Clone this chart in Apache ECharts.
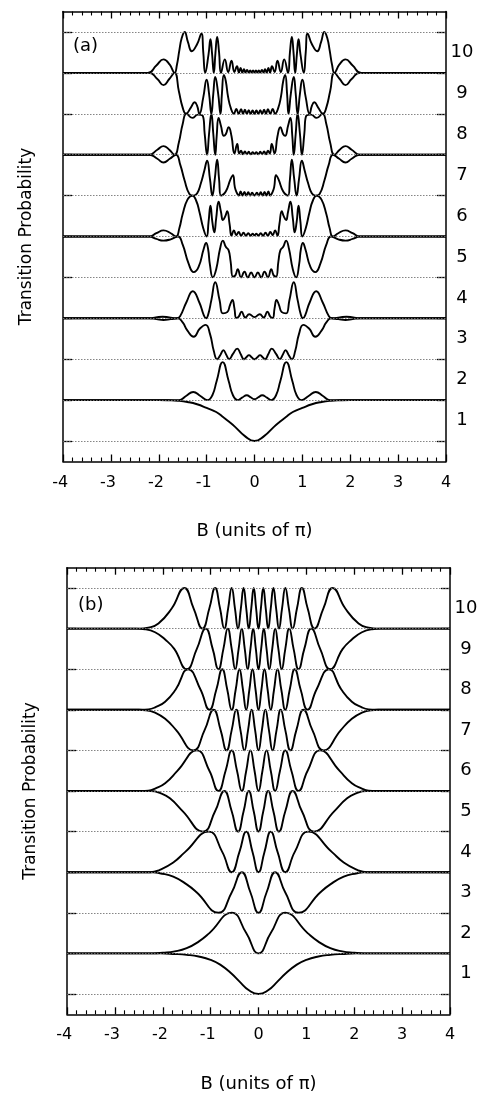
<!DOCTYPE html>
<html><head><meta charset="utf-8">
<script src="https://cdn.jsdelivr.net/npm/echarts@6/dist/echarts.min.js"></script>
<style>html,body{margin:0;padding:0;background:#fff}#c{width:487px;height:1093px}</style>
</head><body><div id="c"></div>
<script>
// strip levels (offset baselines), strip names, strip centres
const levels = [0,1,2,3,4,5,6,7,8,9,10];
const stripCenters = [0.5,1.5,2.5,3.5,4.5,5.5,6.5,7.5,8.5,9.5];
const stripLabels = ['1','2','3','4','5','6','7','8','9','10'];

// ---- panel (a): [B, P] pairs ----
const a1 = [[-4,0],[-2,0],[-1.8,0.004],[-1.6,0.015],[-1.4,0.045],[-1.2,0.1],[-1,0.19],[-0.8,0.29],[-0.65,0.42],[-0.53,0.53],[-0.4,0.66],[-0.2,0.88],[0,1],[0.2,0.88],[0.4,0.66],[0.53,0.53],[0.65,0.42],[0.8,0.29],[1,0.19],[1.2,0.1],[1.4,0.045],[1.6,0.015],[1.8,0.004],[2,0],[4,0]];
const a2 = [[-4,0],[-1.58,0],[-1.43,0.1],[-1.28,0.2],[-1.13,0.1],[-0.98,0],[-0.88,0.12],[-0.79,0.47],[-0.665,0.93],[-0.54,0.47],[-0.45,0.12],[-0.35,0],[-0.26,0.06],[-0.16,0.12],[-0.08,0.07],[0,0.02],[0.08,0.07],[0.16,0.12],[0.26,0.06],[0.35,0],[0.45,0.12],[0.54,0.47],[0.665,0.93],[0.79,0.47],[0.88,0.12],[0.98,0],[1.13,0.1],[1.28,0.2],[1.43,0.1],[1.58,0],[4,0]];
const a3 = [[-4,0],[-2.2,0],[-2.05,0.02],[-1.9,0.04],[-1.75,0.02],[-1.6,0],[-1.5,0.1],[-1.4,0.3],[-1.27,0.45],[-1.14,0.25],[-1.02,0.16],[-0.93,0.38],[-0.85,0.8],[-0.78,1],[-0.71,0.89],[-0.65,0.78],[-0.59,0.89],[-0.53,1],[-0.45,0.87],[-0.36,0.74],[-0.29,0.87],[-0.22,1],[-0.17,0.95],[-0.115,0.9],[-0.06,0.95],[0,1],[0.06,0.95],[0.115,0.9],[0.17,0.95],[0.22,1],[0.29,0.87],[0.36,0.74],[0.45,0.87],[0.53,1],[0.59,0.89],[0.65,0.78],[0.71,0.89],[0.78,1],[0.85,0.8],[0.93,0.38],[1.02,0.16],[1.14,0.25],[1.27,0.45],[1.4,0.3],[1.5,0.1],[1.6,0],[1.75,0.02],[1.9,0.04],[2.05,0.02],[2.2,0],[4,0]];
const a4 = [[-4,0],[-2.2,0],[-2.06,0.02],[-1.92,0.04],[-1.78,0.02],[-1.62,0],[-1.55,0.06],[-1.42,0.4],[-1.29,0.66],[-1.15,0.38],[-1.06,0.08],[-1.01,0],[-0.97,0.08],[-0.9,0.45],[-0.82,0.88],[-0.73,0.45],[-0.66,0.12],[-0.57,0.15],[-0.51,0.33],[-0.46,0.45],[-0.42,0.25],[-0.38,0.01],[-0.33,0.04],[-0.27,0.16],[-0.19,0.02],[-0.11,0.1],[0,0.03],[0.11,0.1],[0.19,0.02],[0.27,0.16],[0.33,0.04],[0.38,0.01],[0.42,0.25],[0.46,0.45],[0.51,0.33],[0.57,0.15],[0.66,0.12],[0.73,0.45],[0.82,0.88],[0.9,0.45],[0.97,0.08],[1.01,0],[1.06,0.08],[1.15,0.38],[1.29,0.66],[1.42,0.4],[1.55,0.06],[1.62,0],[1.78,0.02],[1.92,0.04],[2.06,0.02],[2.2,0],[4,0]];
const a5 = [[-4,0],[-2.2,0],[-2.05,0.06],[-1.9,0.1],[-1.75,0.07],[-1.6,0],[-1.5,0.2],[-1.38,0.65],[-1.27,0.87],[-1.17,0.75],[-1.06,0.3],[-1.01,0.16],[-0.97,0.3],[-0.93,0.7],[-0.87,1],[-0.8,0.8],[-0.72,0.3],[-0.66,0.1],[-0.6,0.25],[-0.54,0.34],[-0.5,0.6],[-0.45,0.98],[-0.4,0.95],[-0.35,0.8],[-0.28,1],[-0.21,0.86],[-0.14,1],[-0.07,0.88],[0,1],[0.07,0.88],[0.14,1],[0.21,0.86],[0.28,1],[0.35,0.8],[0.4,0.95],[0.45,0.98],[0.5,0.6],[0.54,0.34],[0.6,0.25],[0.66,0.1],[0.72,0.3],[0.8,0.8],[0.87,1],[0.93,0.7],[0.97,0.3],[1.01,0.16],[1.06,0.3],[1.17,0.75],[1.27,0.87],[1.38,0.65],[1.5,0.2],[1.6,0],[1.75,0.07],[1.9,0.1],[2.05,0.06],[2.2,0],[4,0]];
const a6 = [[-4,0],[-2.2,0],[-2.05,0.08],[-1.9,0.15],[-1.75,0.08],[-1.64,0],[-1.57,0.2],[-1.5,0.55],[-1.4,0.9],[-1.3,1],[-1.22,0.88],[-1.15,0.6],[-1.07,0.2],[-1,0],[-0.96,0.35],[-0.92,0.75],[-0.88,0.35],[-0.84,0.1],[-0.8,0.45],[-0.75,0.85],[-0.7,0.6],[-0.66,0.4],[-0.61,0.5],[-0.57,0.62],[-0.52,0.3],[-0.48,0.02],[-0.43,0.15],[-0.38,0.03],[-0.33,0.11],[-0.28,0.02],[-0.23,0.09],[-0.18,0.02],[-0.13,0.08],[-0.08,0.02],[-0.04,0.07],[0,0.03],[0.04,0.07],[0.08,0.02],[0.13,0.08],[0.18,0.02],[0.23,0.09],[0.28,0.02],[0.33,0.11],[0.38,0.03],[0.43,0.15],[0.48,0.02],[0.52,0.3],[0.57,0.62],[0.61,0.5],[0.66,0.4],[0.7,0.6],[0.75,0.85],[0.8,0.45],[0.84,0.1],[0.88,0.35],[0.92,0.75],[0.96,0.35],[1,0],[1.07,0.2],[1.15,0.6],[1.22,0.88],[1.3,1],[1.4,0.9],[1.5,0.55],[1.57,0.2],[1.64,0],[1.75,0.08],[1.9,0.15],[2.05,0.08],[2.2,0],[4,0]];
const a7 = [[-4,0],[-2.2,0],[-2.03,0.1],[-1.9,0.19],[-1.77,0.1],[-1.64,0],[-1.55,0.25],[-1.46,0.63],[-1.36,0.96],[-1.28,1],[-1.2,0.95],[-1.12,0.7],[-1.05,0.4],[-0.99,0.15],[-0.93,0.6],[-0.88,1],[-0.83,0.6],[-0.78,0.12],[-0.74,0.6],[-0.7,1],[-0.6,0.9],[-0.5,0.6],[-0.45,0.5],[-0.41,0.8],[-0.37,0.93],[-0.33,1],[-0.29,0.9],[-0.25,1],[-0.21,0.91],[-0.17,1],[-0.13,0.92],[-0.09,1],[-0.05,0.93],[0,1],[0.05,0.93],[0.09,1],[0.13,0.92],[0.17,1],[0.21,0.91],[0.25,1],[0.29,0.9],[0.33,1],[0.37,0.93],[0.41,0.8],[0.45,0.5],[0.5,0.6],[0.6,0.9],[0.7,1],[0.74,0.6],[0.78,0.12],[0.83,0.6],[0.88,1],[0.93,0.6],[0.99,0.15],[1.05,0.4],[1.12,0.7],[1.2,0.95],[1.28,1],[1.36,0.96],[1.46,0.63],[1.55,0.25],[1.64,0],[1.77,0.1],[1.9,0.19],[2.03,0.1],[2.2,0],[4,0]];
const a8 = [[-4,0],[-2.2,0],[-2.03,0.12],[-1.9,0.21],[-1.78,0.12],[-1.67,0],[-1.58,0.3],[-1.5,0.75],[-1.42,1],[-1.3,0.9],[-1.18,0.98],[-1.08,0.95],[-1.04,0.5],[-0.99,0],[-0.95,0.5],[-0.9,1],[-0.86,0.5],[-0.82,0],[-0.79,0.45],[-0.75,0.9],[-0.7,0.7],[-0.64,0.46],[-0.6,0.5],[-0.54,0.67],[-0.48,0.45],[-0.42,0.03],[-0.36,0.26],[-0.32,0.03],[-0.28,0.1],[-0.24,0.01],[-0.2,0.08],[-0.16,0.01],[-0.12,0.07],[-0.08,0.01],[-0.04,0.06],[0,0.02],[0.04,0.06],[0.08,0.01],[0.12,0.07],[0.16,0.01],[0.2,0.08],[0.24,0.01],[0.28,0.1],[0.32,0.03],[0.36,0.26],[0.42,0.03],[0.48,0.45],[0.54,0.67],[0.6,0.5],[0.64,0.46],[0.7,0.7],[0.75,0.9],[0.79,0.45],[0.82,0],[0.86,0.5],[0.9,1],[0.95,0.5],[0.99,0],[1.04,0.5],[1.08,0.95],[1.18,0.98],[1.3,0.9],[1.42,1],[1.5,0.75],[1.58,0.3],[1.67,0],[1.78,0.12],[1.9,0.21],[2.03,0.12],[2.2,0],[4,0]];
const a9 = [[-4,0],[-2.2,0],[-2.03,0.15],[-1.9,0.3],[-1.78,0.15],[-1.67,0],[-1.58,0.45],[-1.5,0.85],[-1.43,1],[-1.33,0.85],[-1.25,0.72],[-1.2,0.8],[-1.15,1],[-1.07,0.6],[-1,0.17],[-0.95,0.5],[-0.9,1],[-0.86,0.5],[-0.82,0.1],[-0.76,0.5],[-0.71,1],[-0.68,0.5],[-0.64,0.05],[-0.6,0.2],[-0.55,0.6],[-0.49,0.88],[-0.43,1],[-0.38,0.88],[-0.33,1],[-0.28,0.89],[-0.24,1],[-0.2,0.9],[-0.16,1],[-0.12,0.91],[-0.08,1],[-0.04,0.92],[0,1],[0.04,0.92],[0.08,1],[0.12,0.91],[0.16,1],[0.2,0.9],[0.24,1],[0.28,0.89],[0.33,1],[0.38,0.88],[0.43,1],[0.49,0.88],[0.55,0.6],[0.6,0.2],[0.64,0.05],[0.68,0.5],[0.71,1],[0.76,0.5],[0.82,0.1],[0.86,0.5],[0.9,1],[0.95,0.5],[1,0.17],[1.07,0.6],[1.15,1],[1.2,0.8],[1.25,0.72],[1.33,0.85],[1.43,1],[1.5,0.85],[1.58,0.45],[1.67,0],[1.78,0.15],[1.9,0.3],[2.03,0.15],[2.2,0],[4,0]];
const a10 = [[-4,0],[-2.23,0],[-2.05,0.18],[-1.9,0.33],[-1.77,0.2],[-1.67,0],[-1.62,0.2],[-1.57,0.55],[-1.52,0.85],[-1.46,1],[-1.39,0.75],[-1.31,0.53],[-1.2,0.7],[-1.11,0.96],[-1.07,0.5],[-1.03,0],[-0.96,0.45],[-0.92,0.82],[-0.885,0.45],[-0.85,0],[-0.815,0.5],[-0.78,0.88],[-0.74,0.5],[-0.7,0],[-0.62,0.33],[-0.55,0.02],[-0.48,0.3],[-0.42,0.02],[-0.365,0.16],[-0.325,0.01],[-0.29,0.12],[-0.255,0.01],[-0.22,0.09],[-0.19,0.01],[-0.155,0.07],[-0.12,0.01],[-0.09,0.06],[-0.06,0.01],[-0.03,0.06],[0,0.01],[0.03,0.06],[0.06,0.01],[0.09,0.06],[0.12,0.01],[0.155,0.07],[0.19,0.01],[0.22,0.09],[0.255,0.01],[0.29,0.12],[0.325,0.01],[0.365,0.16],[0.42,0.02],[0.48,0.3],[0.55,0.02],[0.62,0.33],[0.7,0],[0.74,0.5],[0.78,0.88],[0.815,0.5],[0.85,0],[0.885,0.45],[0.92,0.82],[0.96,0.45],[1.03,0],[1.07,0.5],[1.11,0.96],[1.2,0.7],[1.31,0.53],[1.39,0.75],[1.46,1],[1.52,0.85],[1.57,0.55],[1.62,0.2],[1.67,0],[1.77,0.2],[1.9,0.33],[2.05,0.18],[2.23,0],[4,0]];

// ---- panel (b): [B, P] pairs ----
const b1 = [[-4,0],[-2.05,0],[-1.75,0.014],[-1.5,0.035],[-1.25,0.076],[-1,0.157],[-0.8,0.277],[-0.56,0.5],[-0.4,0.69],[-0.2,0.907],[0,1],[0.2,0.907],[0.4,0.69],[0.56,0.5],[0.8,0.277],[1,0.157],[1.25,0.076],[1.5,0.035],[1.75,0.014],[2.05,0],[4,0]];
const b2 = [[-4,0],[-2.2,0],[-2,0.015],[-1.75,0.05],[-1.5,0.13],[-1.25,0.29],[-1.026,0.5],[-0.56,1],[-0.256,0.5],[0,0],[0.256,0.5],[0.56,1],[1.026,0.5],[1.25,0.29],[1.5,0.13],[1.75,0.05],[2,0.015],[2.2,0],[4,0]];
const b3 = [[-4,0],[-2.2,0],[-2.06,0.025],[-1.78,0.11],[-1.5,0.3],[-1.288,0.5],[-0.837,1],[-0.56,0.5],[-0.349,0],[-0.168,0.5],[0,1],[0.168,0.5],[0.349,0],[0.56,0.5],[0.837,1],[1.288,0.5],[1.5,0.3],[1.78,0.11],[2.06,0.025],[2.2,0],[4,0]];
const b4 = [[-4,0],[-2.26,0],[-2.06,0.06],[-1.78,0.24],[-1.53,0.5],[-1.04,1],[-0.758,0.5],[-0.56,0],[-0.398,0.5],[-0.256,1],[-0.125,0.5],[0,0],[0.125,0.5],[0.256,1],[0.398,0.5],[0.56,0],[0.758,0.5],[1.04,1],[1.53,0.5],[1.78,0.24],[2.06,0.06],[2.26,0],[4,0]];
const b5 = [[-4,0],[-2.25,0],[-2.05,0.05],[-1.85,0.18],[-1.58,0.5],[-1.16,1],[-0.907,0.5],[-0.714,0],[-0.56,0.5],[-0.428,1],[-0.311,0.5],[-0.203,0],[-0.1,0.5],[0,1],[0.1,0.5],[0.203,0],[0.311,0.5],[0.428,1],[0.56,0.5],[0.714,0],[0.907,0.5],[1.16,1],[1.58,0.5],[1.85,0.18],[2.05,0.05],[2.25,0],[4,0]];
const b6 = [[-4,0],[-2.45,0],[-2.3,0.01],[-2.16,0.06],[-1.95,0.19],[-1.69,0.5],[-1.288,1],[-1.026,0.5],[-0.837,0],[-0.687,0.5],[-0.56,1],[-0.449,0.5],[-0.349,0],[-0.256,0.5],[-0.168,1],[-0.083,0.5],[0,0],[0.083,0.5],[0.168,1],[0.256,0.5],[0.349,0],[0.449,0.5],[0.56,1],[0.687,0.5],[0.837,0],[1.026,0.5],[1.288,1],[1.69,0.5],[1.95,0.19],[2.16,0.06],[2.3,0.01],[2.45,0],[4,0]];
const b7 = [[-4,0],[-2.5,0],[-2.35,0.01],[-2.16,0.07],[-1.95,0.22],[-1.72,0.5],[-1.36,1],[-1.126,0.5],[-0.939,0],[-0.791,0.5],[-0.667,1],[-0.56,0.5],[-0.464,0],[-0.377,0.5],[-0.295,1],[-0.218,0.5],[-0.1435,0],[-0.071,0.5],[0,1],[0.071,0.5],[0.1435,0],[0.218,0.5],[0.295,1],[0.377,0.5],[0.464,0],[0.56,0.5],[0.667,1],[0.791,0.5],[0.939,0],[1.126,0.5],[1.36,1],[1.72,0.5],[1.95,0.22],[2.16,0.07],[2.35,0.01],[2.5,0],[4,0]];
const b8 = [[-4,0],[-2.45,0],[-2.3,0.01],[-2.16,0.06],[-1.95,0.2],[-1.73,0.5],[-1.47,1],[-1.212,0.5],[-1.026,0],[-0.88,0.5],[-0.758,1],[-0.653,0.5],[-0.56,0],[-0.476,0.5],[-0.398,1],[-0.325,0.5],[-0.256,0],[-0.19,0.5],[-0.125,1],[-0.062,0.5],[0,0],[0.062,0.5],[0.125,1],[0.19,0.5],[0.256,0],[0.325,0.5],[0.398,1],[0.476,0.5],[0.56,0],[0.653,0.5],[0.758,1],[0.88,0.5],[1.026,0],[1.212,0.5],[1.47,1],[1.73,0.5],[1.95,0.2],[2.16,0.06],[2.3,0.01],[2.45,0],[4,0]];
const b9 = [[-4,0],[-2.55,0],[-2.37,0.015],[-2.16,0.09],[-1.95,0.27],[-1.76,0.5],[-1.5,1],[-1.288,0.5],[-1.103,0],[-0.957,0.5],[-0.837,1],[-0.733,0.5],[-0.642,0],[-0.56,0.5],[-0.485,1],[-0.415,0.5],[-0.349,0],[-0.287,0.5],[-0.226,1],[-0.168,0.5],[-0.111,0],[-0.0555,0.5],[0,1],[0.0555,0.5],[0.111,0],[0.168,0.5],[0.226,1],[0.287,0.5],[0.349,0],[0.415,0.5],[0.485,1],[0.56,0.5],[0.642,0],[0.733,0.5],[0.837,1],[0.957,0.5],[1.103,0],[1.288,0.5],[1.5,1],[1.76,0.5],[1.95,0.27],[2.16,0.09],[2.37,0.015],[2.55,0],[4,0]];
const b10 = [[-4,0],[-2.5,0],[-2.3,0.025],[-2.09,0.125],[-1.81,0.5],[-1.55,1],[-1.356,0.5],[-1.171,0],[-1.026,0.5],[-0.907,1],[-0.804,0.5],[-0.714,0],[-0.634,0.5],[-0.56,1],[-0.492,0.5],[-0.428,0],[-0.368,0.5],[-0.311,1],[-0.256,0.5],[-0.203,0],[-0.151,0.5],[-0.1,1],[-0.05,0.5],[0,0],[0.05,0.5],[0.1,1],[0.151,0.5],[0.203,0],[0.256,0.5],[0.311,1],[0.368,0.5],[0.428,0],[0.492,0.5],[0.56,1],[0.634,0.5],[0.714,0],[0.804,0.5],[0.907,1],[1.026,0.5],[1.171,0],[1.356,0.5],[1.55,1],[1.81,0.5],[2.09,0.125],[2.3,0.025],[2.5,0],[4,0]];

const curvesA = [a1,a2,a3,a4,a5,a6,a7,a8,a9,a10];
const curvesB = [b1,b2,b3,b4,b5,b6,b7,b8,b9,b10];

const FONT = 'DejaVu Sans';
const BLACK = '#000';

// odd strips hang down from their top level, even strips rise from their bottom level
function place(arr, n) {
  return arr.map(([b, p]) => [b, n % 2 ? n - p : n - 1 + p]);
}

const grids = [
  {left: 63, top: 11.5, width: 383, height: 450, outerBoundsMode: 'none'},
  {left: 67, top: 567.7, width: 383, height: 446.6, outerBoundsMode: 'none'}
];

function xAxes(g) {
  const common = {
    gridIndex: g, type: 'value', min: -4, max: 4, interval: 1,
    axisLine: {show: true, onZero: false, lineStyle: {color: BLACK, width: 1.5}},
    axisTick: {show: true, inside: true, length: 7, lineStyle: {color: BLACK, width: 1.3}},
    minorTick: {show: true, splitNumber: 5, length: 4, lineStyle: {color: BLACK, width: 1.1}},
    splitLine: {show: false}, minorSplitLine: {show: false}
  };
  return [
    Object.assign({}, common, {
      position: 'bottom',
      name: 'B (units of \u03c0)', nameLocation: 'middle', nameGap: 61, nameMoveOverlap: false,
      nameTextStyle: {fontFamily: FONT, fontSize: 18, color: BLACK},
      axisLabel: {
        show: true, margin: 13, showMinLabel: true, showMaxLabel: true,
        fontFamily: FONT, fontSize: 16, color: BLACK,
        formatter: v => v < 0 ? '-' + (-v) + '{g|-}' : String(v),
        rich: {g: {color: 'rgba(0,0,0,0)', fontFamily: FONT, fontSize: 16}}
      }
    }),
    Object.assign({}, common, {position: 'top', axisLabel: {show: false}})
  ];
}

function yAxes(g) {
  const common = {
    gridIndex: g, type: 'value', min: -0.5, max: 10.5,
    axisLine: {show: true, onZero: false, lineStyle: {color: BLACK, width: 1.5}},
    axisTick: {show: true, inside: true, length: 9, customValues: levels, lineStyle: {color: BLACK, width: 1.3}},
    splitLine: {show: false}
  };
  return [
    Object.assign({}, common, {
      position: 'left', axisLabel: {show: false},
      name: 'Transition Probability', nameLocation: 'middle', nameGap: 28, nameRotate: 90,
      nameMoveOverlap: false,
      nameTextStyle: {fontFamily: FONT, fontSize: 17, color: BLACK}
    }),
    Object.assign({}, common, {
      position: 'right',
      axisLabel: {
        show: true, customValues: stripCenters, margin: 16, align: 'center',
        fontFamily: FONT, fontSize: 18, color: BLACK,
        formatter: v => stripLabels[Math.round(v - 0.5)]
      }
    })
  ];
}

const series = [];
[curvesA, curvesB].forEach((curves, g) => {
  series.push({
    type: 'line', xAxisIndex: g * 2, yAxisIndex: g * 2, data: [], z: 1, silent: true,
    markLine: {
      silent: true, symbol: ['none', 'none'], animation: false,
      label: {show: false}, emphasis: {disabled: true},
      lineStyle: {color: '#777', width: 0.9, type: [1.5, 1.5]},
      data: levels.map(v => ({yAxis: v}))
    }
  });
  curves.forEach((arr, i) => {
    series.push({
      type: 'line', xAxisIndex: g * 2, yAxisIndex: g * 2,
      data: place(arr, i + 1), showSymbol: false, smooth: 0.5, z: 3, silent: true,
      lineStyle: {color: BLACK, width: 1.9}
    });
  });
});

const chart = echarts.init(document.getElementById('c'), null, {renderer: 'canvas'});
chart.setOption({
  animation: false,
  backgroundColor: '#fff',
  title: [
    {text: '(a)', left: 73, top: 37, padding: 0, textStyle: {fontFamily: FONT, fontSize: 18, fontWeight: 'normal', color: BLACK}},
    {text: '(b)', left: 78, top: 596, padding: 0, textStyle: {fontFamily: FONT, fontSize: 18, fontWeight: 'normal', color: BLACK}}
  ],
  grid: grids,
  xAxis: [...xAxes(0), ...xAxes(1)],
  yAxis: [...yAxes(0), ...yAxes(1)],
  series: series
});
</script>
</body></html>
